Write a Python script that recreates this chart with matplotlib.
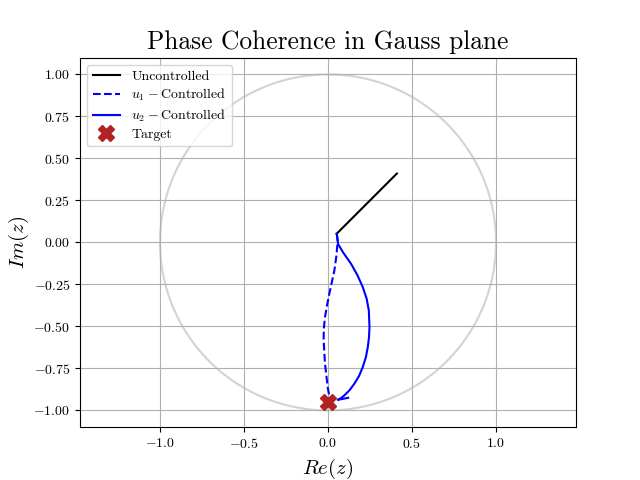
import numpy as np
import matplotlib
matplotlib.use("Agg")
import matplotlib.pyplot as plt

plt.rcParams['font.family'] = 'serif'
plt.rcParams['font.serif'] = ['cmr10']
plt.rcParams['mathtext.fontset'] = 'cm'
plt.rcParams['axes.formatter.use_mathtext'] = True

unc_re = [0.052, 0.41]
unc_im = [0.052, 0.41]

u1_re = [0.052, 0.058, 0.050, 0.038, 0.022, 0.008, -0.006, -0.018, -0.025, -0.026,
         -0.022, -0.018, -0.010, -0.002, 0.006, 0.0]
u1_im = [0.052, 0.01, -0.08, -0.167, -0.24, -0.305, -0.375, -0.445, -0.515, -0.583,
         -0.65, -0.722, -0.79, -0.861, -0.905, -0.95]

u2_re = [0.052, 0.06, 0.09, 0.137, 0.175, 0.207, 0.23, 0.243, 0.247, 0.244, 0.237,
         0.225, 0.207, 0.185, 0.157, 0.128, 0.097, 0.075, 0.058, 0.08, 0.12]
u2_im = [0.052, -0.01, -0.06, -0.127, -0.195, -0.266, -0.335, -0.405, -0.504, -0.565,
         -0.623, -0.685, -0.742, -0.795, -0.841, -0.88, -0.911, -0.928, -0.937, -0.933, -0.925]

target_re = [0.0]
target_im = [-0.95]

fig, ax = plt.subplots(figsize=(6.4, 4.8), dpi=100)
circ = plt.Circle((0, 0), 1.0, fill=False, color='lightgray', lw=1.5)
ax.add_patch(circ)
ax.plot(unc_re, unc_im, color='black', lw=1.5, label='Uncontrolled')
ax.plot(u1_re, u1_im, color='blue', ls='--', lw=1.5, label=r'$u_1-$Controlled')
ax.plot(u2_re, u2_im, color='blue', lw=1.5, label=r'$u_2-$Controlled')
ax.plot(target_re, target_im, ls='none', marker='X', color='firebrick', markersize=12, label='Target')
ax.autoscale_view()
ax.axis('equal')
ax.grid(True)
ax.set_title('Phase Coherence in Gauss plane', fontsize=18.3)
ax.set_xlabel(r'$Re(z)$', fontsize=15)
ax.set_ylabel(r'$Im(z)$', fontsize=15, labelpad=2)
ax.legend(loc='upper left', fontsize=10, labelspacing=0.3)
fig.savefig('out.png')
